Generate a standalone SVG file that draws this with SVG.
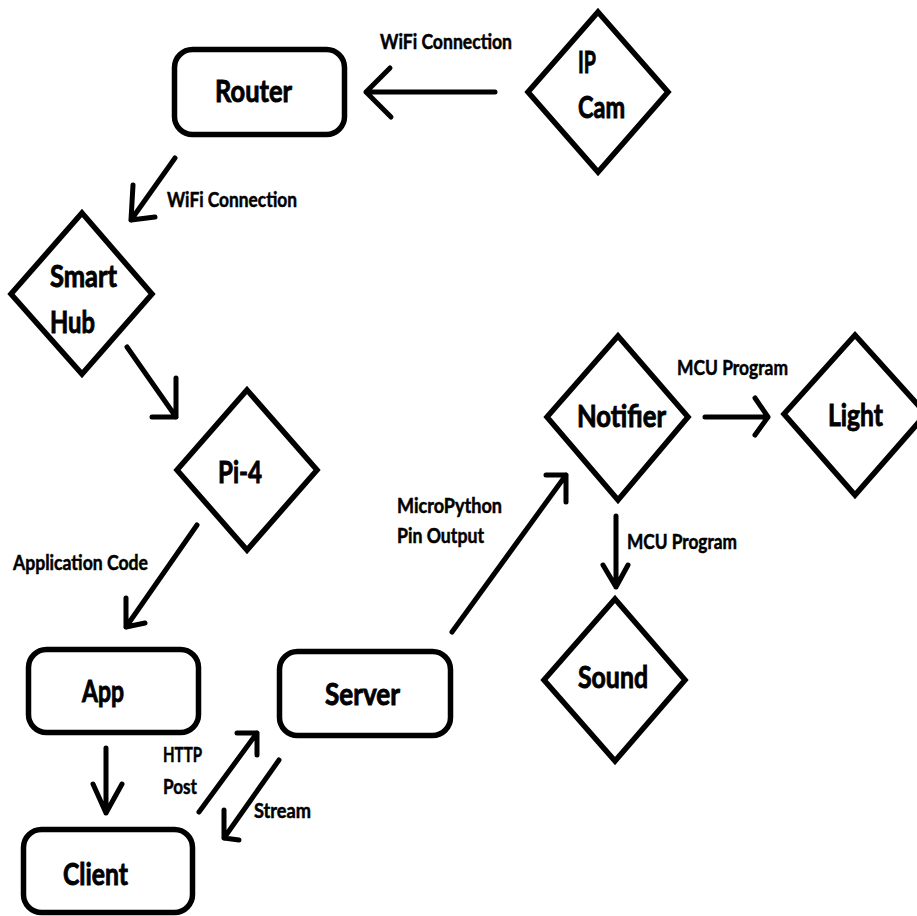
<svg xmlns="http://www.w3.org/2000/svg" width="917" height="916" viewBox="0 0 917 916">
  <style>
    .shape { fill: none; stroke: #000; stroke-width: 5.5; stroke-linejoin: miter; }
    .wire { fill: none; stroke: #000; stroke-width: 5; stroke-linecap: round; stroke-linejoin: round; }
    .name { font-family: Lato, "Liberation Sans", sans-serif; font-weight: bold; font-size: 31px; fill: #000; stroke: #000; stroke-width: 0.9; }
    .tag { font-family: Lato, "Liberation Sans", sans-serif; font-weight: bold; font-size: 20.5px; fill: #000; stroke: #000; stroke-width: 0.5; }
  </style>
  <rect width="917" height="916" fill="#fff"/>

  <!-- connectors: shaft plus open chevron head -->
  <g id="connectors">
    <path class="wire" d="M495 92 H366 M390 68 L366 92 L391 117"/>
    <path class="wire" d="M175 158 L131 220 M133 185 L131 220 L155 217"/>
    <path class="wire" d="M127 347 L176 417 M176 378 L176 417 L152 417"/>
    <path class="wire" d="M197 525 L126 627 M126 598 L126 627 L145 623"/>
    <path class="wire" d="M106 748 V813 M93 784 L106 813 L122 784"/>
    <path class="wire" d="M199 812 L257 733 M237 733 L257 733 L257 755"/>
    <path class="wire" d="M279 760 L224 838 M224 810 L224 838 L239 840"/>
    <path class="wire" d="M452 632 L566 475 M546 475 L566 475 L566 502"/>
    <path class="wire" d="M705 417 H768 M755 398 L768 417 L755 435"/>
    <path class="wire" d="M616 516 V587 M603 565 L616 587 L628 565"/>
    <text class="tag" x="380" y="49" textLength="132" lengthAdjust="spacingAndGlyphs">WiFi Connection</text>
    <text class="tag" x="167" y="207" textLength="130" lengthAdjust="spacingAndGlyphs">WiFi Connection</text>
    <text class="tag" x="13" y="570" textLength="135" lengthAdjust="spacingAndGlyphs">Application Code</text>
    <text class="tag" x="163" y="762" textLength="39" lengthAdjust="spacingAndGlyphs">HTTP</text>
    <text class="tag" x="163" y="794" textLength="34" lengthAdjust="spacingAndGlyphs">Post</text>
    <text class="tag" x="254" y="818" textLength="57" lengthAdjust="spacingAndGlyphs">Stream</text>
    <text class="tag" x="397" y="513" textLength="105" lengthAdjust="spacingAndGlyphs">MicroPython</text>
    <text class="tag" x="397" y="543" textLength="87" lengthAdjust="spacingAndGlyphs">Pin Output</text>
    <text class="tag" x="677" y="375" textLength="111" lengthAdjust="spacingAndGlyphs">MCU Program</text>
    <text class="tag" x="627" y="549" textLength="110" lengthAdjust="spacingAndGlyphs">MCU Program</text>
  </g>

  <g id="router">
    <rect class="shape" x="174.5" y="49.5" width="170" height="85" rx="18"/>
    <text class="name" x="215" y="102" textLength="77" lengthAdjust="spacingAndGlyphs">Router</text>
  </g>
  <g id="ip-cam">
    <polygon class="shape" points="598,12 668,92 598,172 528,92"/>
    <text class="name" x="578" y="73" textLength="18" lengthAdjust="spacingAndGlyphs">IP</text>
    <text class="name" x="578" y="118" textLength="47" lengthAdjust="spacingAndGlyphs">Cam</text>
  </g>
  <g id="smart-hub">
    <polygon class="shape" points="82,213 152,294 82,374 11,294"/>
    <text class="name" x="50" y="287" textLength="67" lengthAdjust="spacingAndGlyphs">Smart</text>
    <text class="name" x="50" y="333" textLength="45" lengthAdjust="spacingAndGlyphs">Hub</text>
  </g>
  <g id="pi-4">
    <polygon class="shape" points="247,390 317,470 247,550 177,470"/>
    <text class="name" x="218" y="483" textLength="44" lengthAdjust="spacingAndGlyphs">Pi-4</text>
  </g>
  <g id="app">
    <rect class="shape" x="28.5" y="649.5" width="170" height="83" rx="18"/>
    <text class="name" x="82" y="702" textLength="42" lengthAdjust="spacingAndGlyphs">App</text>
  </g>
  <g id="server">
    <rect class="shape" x="279.5" y="651.5" width="171" height="84" rx="18"/>
    <text class="name" x="325" y="705" textLength="75" lengthAdjust="spacingAndGlyphs">Server</text>
  </g>
  <g id="client">
    <rect class="shape" x="23.5" y="829.5" width="169" height="83" rx="18"/>
    <text class="name" x="63" y="885" textLength="65" lengthAdjust="spacingAndGlyphs">Client</text>
  </g>
  <g id="notifier">
    <polygon class="shape" points="618,336 688,417 618,500 547,417"/>
    <text class="name" x="577" y="427" textLength="89" lengthAdjust="spacingAndGlyphs">Notifier</text>
  </g>
  <g id="light">
    <polygon class="shape" points="855,335 926,414 855,495 784,414"/>
    <text class="name" x="828" y="426" textLength="55" lengthAdjust="spacingAndGlyphs">Light</text>
  </g>
  <g id="sound">
    <polygon class="shape" points="615,599 685,680 615,761 544,680"/>
    <text class="name" x="578" y="688" textLength="70" lengthAdjust="spacingAndGlyphs">Sound</text>
  </g>
</svg>
